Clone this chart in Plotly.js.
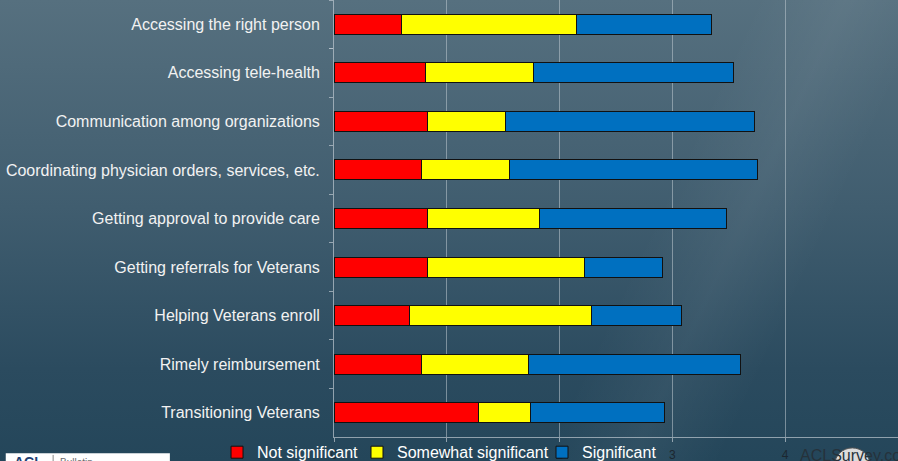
<!DOCTYPE html>
<html>
<head>
<meta charset="utf-8">
<script src="https://cdn.plot.ly/plotly-3.0.1.min.js"></script>
<style>
  html, body { margin: 0; padding: 0; }
  body {
    width: 898px; height: 461px; overflow: hidden;
    background:
      linear-gradient(115deg, rgba(255,255,255,0) 68%, rgba(255,255,255,0.05) 76%, rgba(255,255,255,0) 84%),
      linear-gradient(to bottom, #56707f 0%, #405d6f 45%, #2b4b5f 80%, #24465a 100%);
  }
  #chart { width: 898px; height: 461px; }
</style>
</head>
<body>
<div id="chart"></div>
<script>
// barriers, top to bottom as they appear on the slide
var categories = [
  "Accessing the right person",
  "Accessing tele-health",
  "Communication among organizations",
  "Coordinating physician orders, services, etc.",
  "Getting approval to provide care",
  "Getting referrals for Veterans",
  "Helping Veterans enroll",
  "Rimely reimbursement",
  "Transitioning Veterans"
];
var notSignificant      = [0.60, 0.81, 0.83, 0.78, 0.83, 0.83, 0.67, 0.78, 1.28];
var somewhatSignificant = [1.55, 0.96, 0.69, 0.78, 0.99, 1.39, 1.61, 0.94, 0.46];
var significant         = [1.20, 1.77, 2.21, 2.19, 1.66, 0.69, 0.80, 1.88, 1.19];
var xTicks = [0, 1, 2, 3, 4, 5];

function series(name, values, color, legendId) {
  return {
    name: name,
    type: "bar",
    orientation: "h",
    y: categories,
    x: values,
    legend: legendId,
    marker: { color: color, line: { color: "#111111", width: 1 } },
    hoverinfo: "x+name"
  };
}

var data = [
  series("Not significant", notSignificant, "#ff0000", "legend"),
  series("Somewhat significant", somewhatSignificant, "#ffff00", "legend2"),
  series("Significant", significant, "#0070c0", "legend3")
];

// one small legend per series so each entry sits where the slide has it
function legendAt(x) {
  return {
    x: x, xanchor: "left",
    y: -0.035, yanchor: "middle",
    bgcolor: "rgba(0,0,0,0)",
    font: { size: 16, color: "#ffffff" },
    itemwidth: 30
  };
}

var layout = {
  width: 898,
  height: 461,
  margin: { l: 334, r: 0, t: 0, b: 24, autoexpand: false },
  paper_bgcolor: "rgba(0,0,0,0)",
  plot_bgcolor: "rgba(0,0,0,0)",
  barmode: "stack",
  bargap: 0.59,
  font: { family: "Liberation Sans, Arial, sans-serif", color: "#f2f2f2" },
  showlegend: true,
  legend: legendAt(-0.2074),
  legend2: legendAt(0.0408),
  legend3: legendAt(0.3688),
  xaxis: {
    range: [0, 5],
    tickvals: xTicks,
    showgrid: true,
    gridcolor: "rgba(190,200,208,0.55)",
    gridwidth: 1,
    zeroline: false,
    showline: true,
    linecolor: "rgba(190,200,208,0.7)",
    ticks: "outside",
    ticklen: 4,
    tickcolor: "rgba(190,200,208,0.7)",
    ticklabelstandoff: 3,
    tickfont: { size: 12, color: "#1c2730" },
    fixedrange: true
  },
  yaxis: {
    type: "category",
    autorange: "reversed",
    showgrid: false,
    showline: true,
    linecolor: "rgba(190,200,208,0.7)",
    ticks: "outside",
    tickson: "boundaries",
    ticklen: 4,
    tickcolor: "rgba(190,200,208,0.7)",
    ticklabelstandoff: 10,
    tickfont: { size: 16, color: "#f2f2f2" },
    fixedrange: true
  },
  shapes: [
    { type: "rect", xref: "paper", yref: "paper",
      x0: -0.582, x1: -0.291, y0: -0.037, y1: -0.08,
      fillcolor: "#ffffff", line: { width: 0 } },
    { type: "line", xref: "paper", yref: "paper",
      x0: -0.498, x1: -0.498, y0: -0.041, y1: -0.08,
      line: { color: "#8a8a8a", width: 1 } },
    { type: "circle", xref: "paper", yref: "paper",
      x0: 0.888, x1: 0.95, y0: -0.025, y1: -0.1,
      fillcolor: "#dcdcdc", line: { color: "#555555", width: 1 } }
  ],
  annotations: [
    { text: "<b>ACL</b>", xref: "paper", yref: "paper",
      x: -0.571, y: -0.058, xanchor: "left", yanchor: "middle",
      showarrow: false, font: { size: 14, color: "#1f3f73" } },
    { text: "Bulletin", xref: "paper", yref: "paper",
      x: -0.49, y: -0.058, xanchor: "left", yanchor: "middle",
      showarrow: false, font: { size: 10, color: "#6a6a6a" } },
    { text: "ACLSurvey.com", xref: "paper", yref: "paper",
      x: 0.823, y: -0.043, xanchor: "left", yanchor: "middle",
      showarrow: false, font: { size: 16, color: "#26323b" } }
  ]
};

Plotly.newPlot("chart", data, layout, { displayModeBar: false, staticPlot: true });
</script>
</body>
</html>
